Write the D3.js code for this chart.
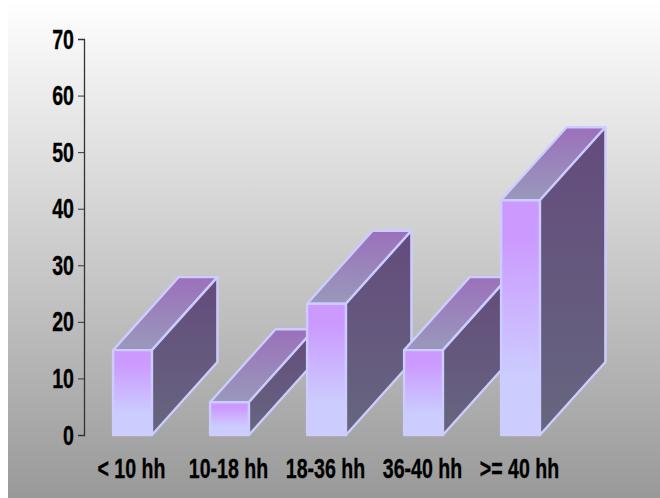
<!DOCTYPE html>
<html><head><meta charset="utf-8">
<script src="https://cdnjs.cloudflare.com/ajax/libs/d3/7.8.5/d3.min.js"></script>
<style>html,body{margin:0;padding:0;background:#fff}svg{display:block}
text{font-family:"Liberation Sans",Arial,sans-serif;font-weight:700;fill:#000;stroke:#000;stroke-width:0.35px}</style>
</head><body><div id="chart"></div>
<script>
const categories = ["< 10 hh", "10-18 hh", "18-36 hh", "36-40 hh", ">= 40 hh"];
const hours = [15, 5.8, 23.2, 15, 41.5];
const yTicks = [0, 10, 20, 30, 40, 50, 60, 70];

const W = 660, H = 498;
const depthX = 65.5, depthY = 73;
const svg = d3.select("#chart").append("svg").attr("width", W).attr("height", H);
const defs = svg.append("defs");

function vGrad(id, stops) {
  const g = defs.append("linearGradient").attr("id", id).attr("x1", 0).attr("x2", 0).attr("y1", 0).attr("y2", 1);
  stops.forEach(s => g.append("stop").attr("offset", s[0]).attr("stop-color", s[1]));
}
vGrad("bg", [[0, "#ffffff"], [1, "#999999"]]);
vGrad("front", [[0, "#cc99ff"], [0.15, "#cc99ff"], [0.75, "#ccccff"], [1, "#ccccff"]]);
vGrad("top", [[0, "#9b70bb"], [1, "#9999bb"]]);
vGrad("side", [[0, "#644b7c"], [1, "#66667f"]]);

svg.append("rect").attr("x", 8).attr("y", 0).attr("width", W - 8).attr("height", H).attr("fill", "url(#bg)");

const y = d3.scaleLinear().domain([0, 70]).range([435, 39]);
const x = d3.scaleBand().domain(categories).range([84, 569]).paddingInner(0.6).paddingOuter(0.3);

// Y axis
const axis = svg.append("g").attr("transform", "translate(84,0)")
  .call(d3.axisLeft(y).tickValues(yTicks).tickSize(6).tickPadding(5));
axis.select(".domain").attr("stroke", "#333").attr("stroke-width", 1.3);
axis.selectAll(".tick line").attr("stroke", "#333");
axis.selectAll("text").style("font-size", "28px")
  .attr("dy", null).attr("x", null)
  .attr("transform", "translate(-10,9) scale(0.7,1)")
  .attr("text-anchor", "end");

// Extruded bars: top and side faces, then the front face
const bars = svg.append("g").selectAll("g").data(categories).join("g");
const stroke = "#ccccff";
const edge = 2.4;
bars.append("path").attr("fill", "url(#top)").attr("stroke", stroke).attr("stroke-width", edge).attr("stroke-linejoin", "round")
  .attr("d", (c, i) => {
    const a = x(c), b = a + x.bandwidth(), t = y(hours[i]);
    return d3.line()([[a, t], [a + depthX, t - depthY], [b + depthX, t - depthY], [b, t]]) + "Z";
  });
bars.append("path").attr("fill", "url(#side)").attr("stroke", stroke).attr("stroke-width", edge).attr("stroke-linejoin", "round")
  .attr("d", (c, i) => {
    const b = x(c) + x.bandwidth(), t = y(hours[i]), z = y(0);
    return d3.line()([[b, t], [b + depthX, t - depthY], [b + depthX, z - depthY], [b, z]]) + "Z";
  });
bars.append("rect").attr("fill", "url(#front)").attr("stroke", stroke).attr("stroke-width", edge).attr("stroke-linejoin", "round")
  .attr("x", c => x(c)).attr("width", x.bandwidth())
  .attr("y", (c, i) => y(hours[i])).attr("height", (c, i) => y(0) - y(hours[i]));

// Category labels
svg.append("g").selectAll("text").data(categories).join("text")
  .attr("text-anchor", "middle").style("font-size", "28px")
  .attr("transform", c => `translate(${x(c) + x.bandwidth() / 2 - 1},478) scale(0.7,1)`)
  .text(c => c);
</script></body></html>
